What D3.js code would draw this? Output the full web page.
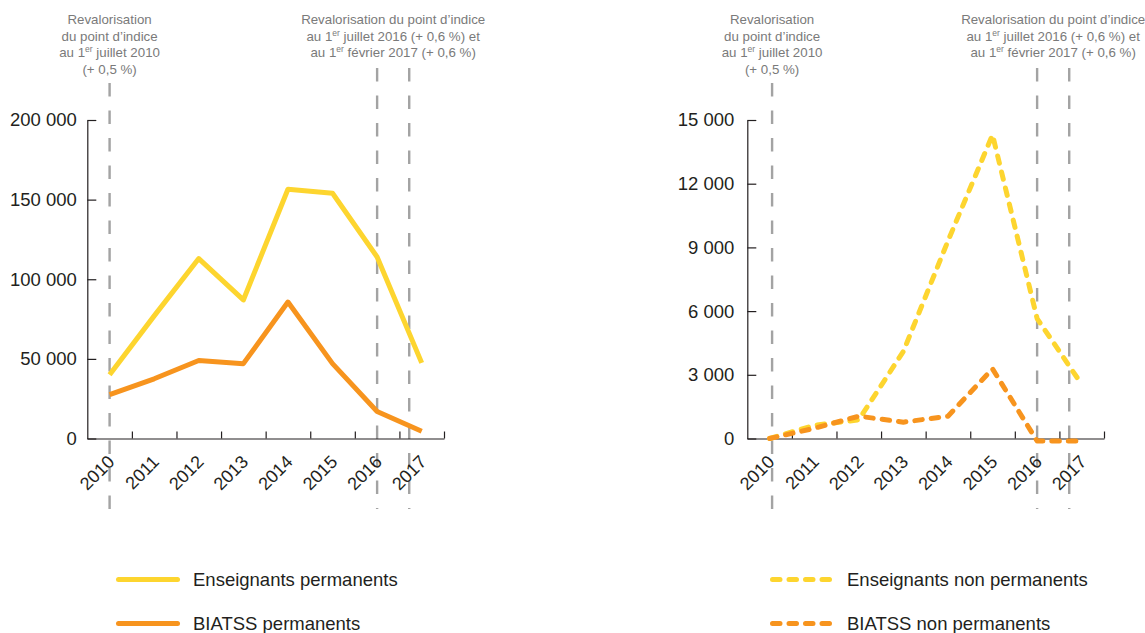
<!DOCTYPE html>
<html>
<head>
<meta charset="utf-8">
<script src="https://cdn.jsdelivr.net/npm/d3@7"></script>
<style>
  html, body { margin: 0; padding: 0; background: #fff; }
  svg { display: block; font-family: "Liberation Sans", Arial, sans-serif; }
</style>
</head>
<body>
<svg id="chart" width="1145" height="633"></svg>
<script>
// ---------- DATA ----------
const years = [2010, 2011, 2012, 2013, 2014, 2015, 2016, 2017];
const enseignantsPermanents = [40000, 77000, 113000, 87000, 156500, 154000, 114000, 47500];
const biatssPermanents      = [27500, 37500, 49000, 47000, 85700, 47000, 17000, 4500];
const enseignantsNonPermanents = [0, 620, 880, 4100, 9300, 14300, 5650, 2550];
const biatssNonPermanents      = [0, 480, 1050, 770, 1050, 3280, -120, -120];
const leftTicks  = [0, 50000, 100000, 150000, 200000];
const rightTicks = [0, 3000, 6000, 9000, 12000, 15000];
const refLineYears = [2010, 2016, 2016.72];
const noteLeft  = [["Revalorisation"], ["du point d\u2019indice"], ["au 1", "^er", " juillet 2010"], ["(+ 0,5 %)"]];
const noteRight = [["Revalorisation du point d\u2019indice"], ["au 1", "^er", " juillet 2016 (+ 0,6 %) et"], ["au 1", "^er", " f\u00e9vrier 2017 (+ 0,6 %)"]];
const legendLeft  = ["Enseignants permanents", "BIATSS permanents"];
const legendRight = ["Enseignants non permanents", "BIATSS non permanents"];

// ---------- STYLE ----------
const YELLOW = "#fdd52f", ORANGE = "#f7941e", GREY = "#a3a3a3", INK = "#231f20", NOTE = "#7a7a7a";
const DASH = "7.5,9";

const svg = d3.select("#chart");
const fr = d3.formatLocale({decimal: ",", thousands: "\u00a0", grouping: [3], currency: ["", ""]});
const fmt = fr.format(",d");

function panel(opts) {
  const g = svg.append("g");
  const x = d3.scaleBand().domain(years).range([opts.x0, opts.x1]).padding(0);
  const bw = x.bandwidth();
  const cx = d => x(d) + bw / 2;
  const yearPos = d3.scaleLinear().domain([2010, 2017]).range([cx(2010), cx(2017)]);
  const y = d3.scaleLinear().domain([opts.ticks[0], opts.ticks[opts.ticks.length - 1]]).range([438.5, 120]);

  // reference lines
  g.selectAll(".ref").data(refLineYears).join("line")
    .attr("x1", (d, i) => yearPos(d) + (i === 0 ? opts.refShift : 0))
    .attr("x2", (d, i) => yearPos(d) + (i === 0 ? opts.refShift : 0))
    .attr("y1", (d, i) => i === 0 ? 83 : 68)
    .attr("y2", (d, i) => i === 0 ? 516 : 509)
    .attr("stroke", GREY).attr("stroke-width", 2.4).attr("stroke-dasharray", "13.5,14");

  // y axis
  const ya = g.append("g").attr("transform", `translate(${opts.x0},0)`)
    .call(d3.axisLeft(y).tickValues(opts.ticks).tickFormat(fmt).tickSize(-9).tickSizeOuter(0).tickPadding(opts.pad));
  ya.selectAll("text").attr("font-size", 18.5).attr("fill", INK).attr("font-family", null);
  ya.selectAll("path,line").attr("stroke", INK).attr("stroke-width", 1.2);

  // x axis (ticks at band boundaries)
  const bLin = d3.scaleLinear().domain([0, years.length]).range([opts.x0, opts.x1]);
  const xa = g.append("g").attr("transform", `translate(0,${y(0)})`)
    .call(d3.axisBottom(bLin).tickValues(d3.range(1, years.length + 1)).tickSize(-7).tickSizeOuter(0).tickFormat(""));
  xa.selectAll("path,line").attr("stroke", INK).attr("stroke-width", 1.2);

  g.selectAll(".xl").data(years).join("text")
    .attr("transform", d => `translate(${cx(d) + 6},463) rotate(-45)`)
    .attr("text-anchor", "end").attr("font-size", 18).attr("fill", INK)
    .text(d => d);

  // lines
  const line = d3.line().x((d, i) => cx(years[i])).y(d => y(d));
  opts.series.forEach(s => {
    g.append("path").datum(s.values).attr("d", line)
      .attr("fill", "none").attr("stroke", s.color).attr("stroke-width", 5)
      .attr("stroke-linejoin", "round").attr("stroke-linecap", s.dashed ? "round" : "butt")
      .attr("stroke-dasharray", s.dashed ? DASH : null);
  });

  // notes
  function note(lines, xc) {
    const t = g.append("text").attr("text-anchor", "middle").attr("font-size", 13.3).attr("fill", NOTE);
    lines.forEach((ln, i) => {
      ln.forEach((seg, j) => {
        const sup = seg.startsWith("^");
        const ts = t.append("tspan").text(sup ? seg.slice(1) : seg);
        if (j === 0) ts.attr("x", xc).attr("y", 24 + i * 16.5);
        if (sup) ts.attr("font-size", 8.5).attr("dy", -5);
        else if (j > 0 && ln[j - 1].startsWith("^")) ts.attr("dy", 5);
      });
    });
  }
  note(noteLeft, yearPos(2010) + opts.refShift);
  note(noteRight, (yearPos(refLineYears[1]) + yearPos(refLineYears[2])) / 2);

  // legend
  opts.series.forEach((s, i) => {
    const ly = 579.5 + i * 44;
    g.append("line").attr("x1", opts.legX + 2.5).attr("x2", opts.legX + opts.legW - 2.5)
      .attr("y1", ly).attr("y2", ly)
      .attr("stroke", s.color).attr("stroke-width", 5).attr("stroke-linecap", "round")
      .attr("stroke-dasharray", s.dashed ? DASH : null);
    g.append("text").attr("x", opts.legTextX).attr("y", ly + 6.5)
      .attr("font-size", 18.5).attr("fill", INK).text(s.name);
  });
}

panel({
  x0: 87.3, x1: 444, ticks: leftTicks, pad: 10.5, refShift: 0,
  legX: 116, legW: 64, legTextX: 193,
  series: [
    {name: legendLeft[0], values: enseignantsPermanents, color: YELLOW, dashed: false},
    {name: legendLeft[1], values: biatssPermanents, color: ORANGE, dashed: false}
  ]
});
panel({
  x0: 747.3, x1: 1104, ticks: rightTicks, pad: 13, refShift: 2.5,
  legX: 770, legW: 62, legTextX: 847,
  series: [
    {name: legendRight[0], values: enseignantsNonPermanents, color: YELLOW, dashed: true},
    {name: legendRight[1], values: biatssNonPermanents, color: ORANGE, dashed: true}
  ]
});
</script>
</body>
</html>
